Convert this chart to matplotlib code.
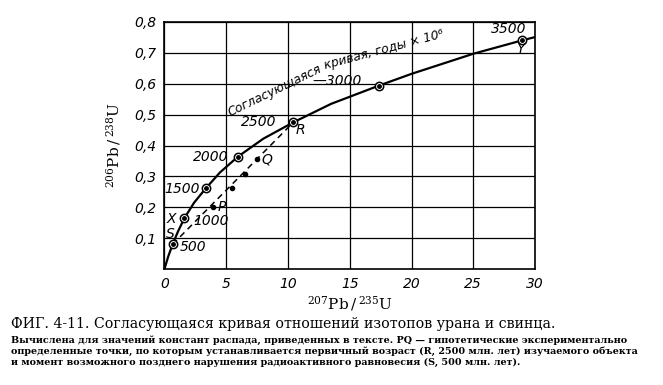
import matplotlib
matplotlib.use('Agg')
import matplotlib.pyplot as plt
from matplotlib.ticker import FuncFormatter

plt.rcParams['mathtext.fontset'] = 'dejavuserif'

# concordia curve
curve_x = [0, 0.3, 0.66, 1.1, 1.62, 2.4, 3.36, 4.5, 5.95, 8.0, 10.43, 13.5, 17.37, 20, 25, 28.92, 30]
curve_y = [0, 0.04, 0.08, 0.122, 0.165, 0.215, 0.262, 0.313, 0.364, 0.422, 0.475, 0.535, 0.594, 0.632, 0.697, 0.74, 0.751]

# age marks on the curve (млн. лет)
ages = [500, 1000, 1500, 2000, 2500, 3000, 3500]
age_x = [0.66, 1.62, 3.36, 5.95, 10.43, 17.37, 28.92]
age_y = [0.08, 0.165, 0.262, 0.364, 0.475, 0.594, 0.74]

# hypothetical measured points P..Q
pq_x = [3.94, 5.47, 6.49, 7.52]
pq_y = [0.20, 0.263, 0.309, 0.355]

xticks = [0, 5, 10, 15, 20, 25, 30]
yticks = [0.1, 0.2, 0.3, 0.4, 0.5, 0.6, 0.7, 0.8]

fig = plt.figure(figsize=(6.63, 3.85), dpi=100)
ax = fig.add_axes([0.248, 0.301, 0.559, 0.642])

ax.plot(curve_x, curve_y, color='black', lw=1.6, zorder=3)
# discordia S-R
ax.plot([age_x[0], age_x[4]], [age_y[0], age_y[4]], color='black', lw=1.1, ls=(0, (4, 3)), zorder=3)
ax.plot(pq_x, pq_y, 'o', color='black', ms=3, zorder=4)

ax.plot(age_x, age_y, 'o', ms=6, mfc='white', mec='black', mew=1.1, zorder=5)
ax.plot(age_x, age_y, 'o', ms=2.5, color='black', zorder=6)

lbl = dict(fontsize=10, style='italic', color='black', zorder=7)
ax.text(1.25, 0.07, '500', ha='left', va='center', **lbl)
ax.text(2.35, 0.156, '1000', ha='left', va='center', **lbl)
ax.text(2.85, 0.259, '1500', ha='right', va='center', **lbl)
ax.text(5.15, 0.362, '2000', ha='right', va='center', **lbl)
ax.text(9.1, 0.475, '2500', ha='right', va='center', **lbl)
ax.text(12.0, 0.608, '\u20143000', ha='left', va='center', **lbl)
ax.text(27.9, 0.776, '3500', ha='center', va='center', **lbl)

ax.text(0.55, 0.162, 'X', ha='center', va='center', **lbl)
ax.text(0.5, 0.113, 'S', ha='center', va='center', **lbl)
ax.text(4.63, 0.2, 'P', ha='center', va='center', **lbl)
ax.text(8.27, 0.354, 'Q', ha='center', va='center', **lbl)
ax.text(10.97, 0.449, 'R', ha='center', va='center', **lbl)
ax.text(28.8, 0.711, 'Y', ha='center', va='center', **lbl)

ax.text(5.31, 0.493, 'Согласующаяся', rotation=26, ha='left', va='baseline',
        fontsize=8.8, style='italic', rotation_mode='anchor')
ax.text(13.0, 0.646, 'кривая, годы × 10\u2076', rotation=15, ha='left', va='baseline',
        fontsize=8.8, style='italic', rotation_mode='anchor')

ax.set_xlim(0, 30)
ax.set_ylim(0, 0.8)
ax.set_xticks(xticks)
ax.set_yticks(yticks)
ax.xaxis.set_major_formatter(FuncFormatter(lambda v, p: f'{v:g}'))
ax.yaxis.set_major_formatter(FuncFormatter(lambda v, p: f'{v:.1f}'.replace('.', ',')))
ax.tick_params(length=0, labelsize=10, pad=6)
for t in ax.get_xticklabels() + ax.get_yticklabels():
    t.set_style('italic')
ax.grid(True, color='black', lw=0.9)
for s in ax.spines.values():
    s.set_linewidth(1.2)

ax.set_xlabel(r'$^{207}\mathrm{Pb}\,/\,^{235}\mathrm{U}$', fontsize=11, labelpad=2)
ax.set_ylabel(r'$^{206}\mathrm{Pb}\,/\,^{238}\mathrm{U}$', fontsize=11, labelpad=8)

fig.text(0.017, 0.158, 'ФИГ. 4-11. Согласующаяся кривая отношений изотопов урана и свинца.',
         fontsize=10.2, family='DejaVu Serif', ha='left', va='center')
cap = ['Вычислена для значений констант распада, приведенных в тексте. PQ — гипотетические экспериментально',
       'определенные точки, по которым устанавливается первичный возраст (R, 2500 млн. лет) изучаемого объекта',
       'и момент возможного позднего нарушения радиоактивного равновесия (S, 500 млн. лет).']
for i, line in enumerate(cap):
    fig.text(0.017, 0.117 - i * 0.0286, line, fontsize=6.95, family='DejaVu Serif',
             weight='bold', ha='left', va='center')

fig.savefig('out.png', dpi=100)
